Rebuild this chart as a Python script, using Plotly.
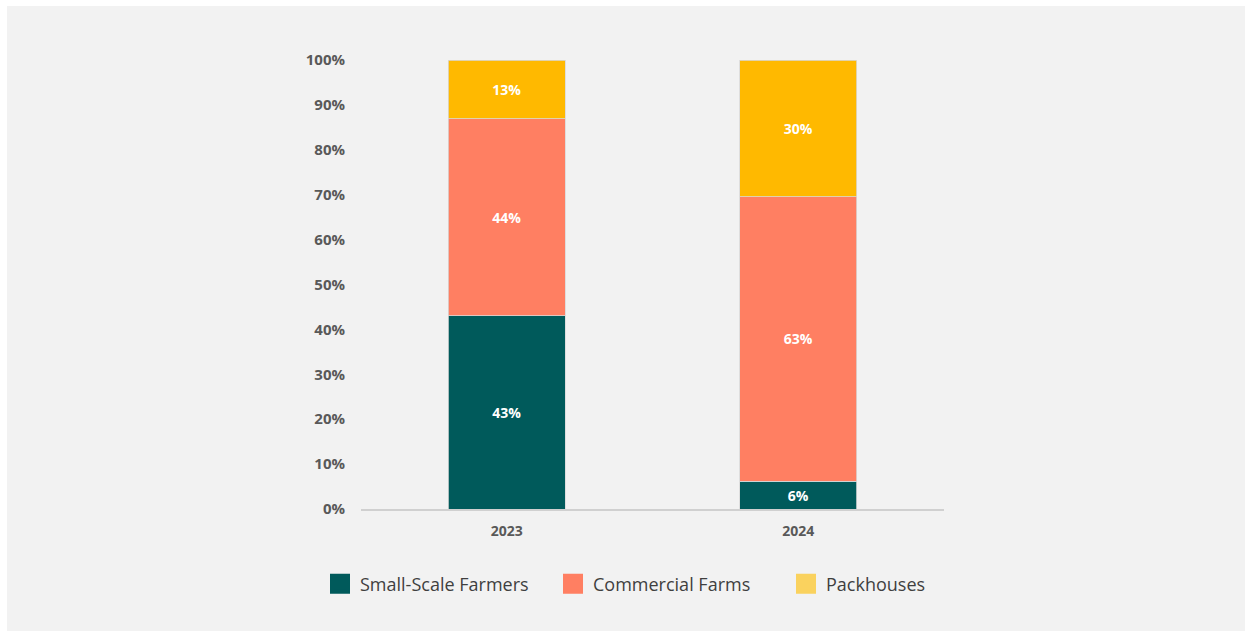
import plotly.graph_objects as go

years = ["2023", "2024"]
small_scale = [43.0, 6.2]
commercial = [43.9, 63.4]
packhouses = [13.1, 30.4]
y_ticks = [0, 10, 20, 30, 40, 50, 60, 70, 80, 90, 100]
y_tick_labels = [f"{v}%" for v in y_ticks]

series = [
    ("Small-Scale Farmers", small_scale, "#005a5b", "#005a5b"),
    ("Commercial Farms", commercial, "#ff7f62", "#ff7f62"),
    ("Packhouses", packhouses, "#ffb900", "#fad25e"),
]

W, H = 1252, 637
L, R, T, B = 361, 308, 60, 128
pw, ph = W - L - R, H - T - B

fig = go.Figure()
for name, vals, col, _ in series:
    fig.add_trace(go.Bar(
        x=years, y=vals, name=name, showlegend=False,
        marker=dict(color=col, line=dict(color="#d8d8d8", width=0.8)),
        width=0.4,
        texttemplate="%{y:.0f}%", textposition="inside",
        insidetextanchor="middle",
        textfont=dict(family="Open Sans", size=14, color="white", weight="bold"),
        hoverinfo="skip",
    ))
for name, _, _, lcol in series:
    fig.add_trace(go.Scatter(
        x=[None], y=[None], mode="markers", name=name,
        marker=dict(symbol="square", size=16, color=lcol, line=dict(color=lcol, width=4)),
    ))

def px(x):
    return (x - L) / pw

def py(y):
    return (H - B - y) / ph

fig.add_shape(type="rect", xref="paper", yref="paper",
              x0=px(7), x1=px(1245), y0=py(631), y1=py(6),
              fillcolor="#f2f2f2", line=dict(width=0), layer="below")

fig.update_layout(
    width=W, height=H,
    margin=dict(l=L, r=R, t=T, b=B),
    paper_bgcolor="white", plot_bgcolor="rgba(0,0,0,0)",
    barmode="stack", bargap=0.6,
    font=dict(family="Open Sans", color="#595959"),
    xaxis=dict(
        range=[-0.5, 1.5], showgrid=False, zeroline=False,
        showline=True, linecolor="#d0d0d0", linewidth=2,
        ticks="outside", ticklen=8, tickcolor="rgba(0,0,0,0)",
        tickfont=dict(family="Open Sans", size=14, color="#595959", weight="bold"),
    ),
    yaxis=dict(
        range=[0, 100], showgrid=False, zeroline=False, showline=False,
        tickvals=y_ticks, ticktext=y_tick_labels,
        ticks="outside", ticklen=12, tickcolor="rgba(0,0,0,0)",
        tickfont=dict(family="Open Sans", size=15, color="#595959", weight="bold"),
    ),
    legend=dict(
        orientation="h", x=px(320), xanchor="left", y=py(584), yanchor="middle",
        font=dict(family="Open Sans", size=18, color="#3f3f3f"),
        bgcolor="rgba(0,0,0,0)", itemclick=False, itemdoubleclick=False,
        traceorder="normal", entrywidth=188, entrywidthmode="pixels",
    ),
)

fig.write_html("out.html")
